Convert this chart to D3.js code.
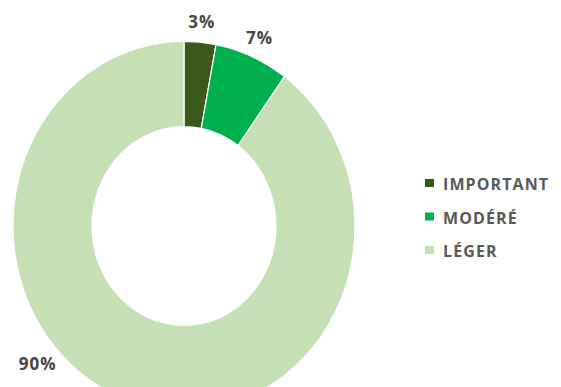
<!DOCTYPE html>
<html>
<head>
<meta charset="utf-8">
<script src="https://cdn.jsdelivr.net/npm/d3@7"></script>
<style>
  html, body { margin: 0; padding: 0; background: #ffffff; }
  svg { display: block; }
  text { font-family: "Open Sans", Lato, "Liberation Sans", sans-serif; font-weight: 700; }
</style>
</head>
<body>
<svg id="chart" width="561" height="387"></svg>
<script>
// Share of cases by severity
const categories = ["IMPORTANT", "MODÉRÉ", "LÉGER"];
const values = [3, 7, 90];
const valueLabels = ["3%", "7%", "90%"];
const colors = ["#3a5a1c", "#00b04f", "#c5e0b4"];

const cx = 184, cy = 226;
const outerR = 171, innerR = 92;
const yStretch = 1.08;

const svg = d3.select("#chart");

const pie = d3.pie().sort(null).value(d => d.value);
const arcs = pie(categories.map((c, i) => ({ name: c, value: values[i], label: valueLabels[i], color: colors[i] })));

const arc = d3.arc().innerRadius(innerR).outerRadius(outerR);

const ring = svg.append("g")
  .attr("transform", `translate(${cx},${cy}) scale(1,${yStretch})`);

ring.selectAll("path")
  .data(arcs)
  .join("path")
  .attr("d", arc)
  .attr("fill", d => d.data.color)
  .attr("stroke", "#ffffff")
  .attr("stroke-width", 1.2);

// Percentage labels outside the ring; the big slice's label sits at the lower left
function labelPos(d) {
  const big = d.endAngle - d.startAngle > Math.PI;
  const a = big ? 229 * Math.PI / 180 : (d.startAngle + d.endAngle) / 2;
  const r = big ? 194 : 190;
  return [cx + r * Math.sin(a), cy - r * Math.cos(a) * yStretch];
}

svg.append("g").selectAll("text")
  .data(arcs)
  .join("text")
  .attr("x", d => labelPos(d)[0])
  .attr("y", d => labelPos(d)[1])
  .attr("text-anchor", "middle")
  .attr("dominant-baseline", "central")
  .attr("font-size", 17)
  .attr("letter-spacing", 1)
  .attr("fill", "#454545")
  .text(d => d.data.label);

// Legend
const legendY = d3.scalePoint().domain(categories).range([183, 250]);
const legend = svg.append("g").selectAll("g")
  .data(categories)
  .join("g")
  .attr("transform", d => `translate(425,${legendY(d)})`);

legend.append("rect")
  .attr("x", 0).attr("y", -4)
  .attr("width", 9).attr("height", 8)
  .attr("fill", (d, i) => colors[i]);

legend.append("text")
  .attr("x", 18)
  .attr("y", 1)
  .attr("dominant-baseline", "central")
  .attr("font-size", 16)
  .attr("letter-spacing", 1.1)
  .attr("fill", "#595959")
  .text(d => d);
</script>
</body>
</html>
